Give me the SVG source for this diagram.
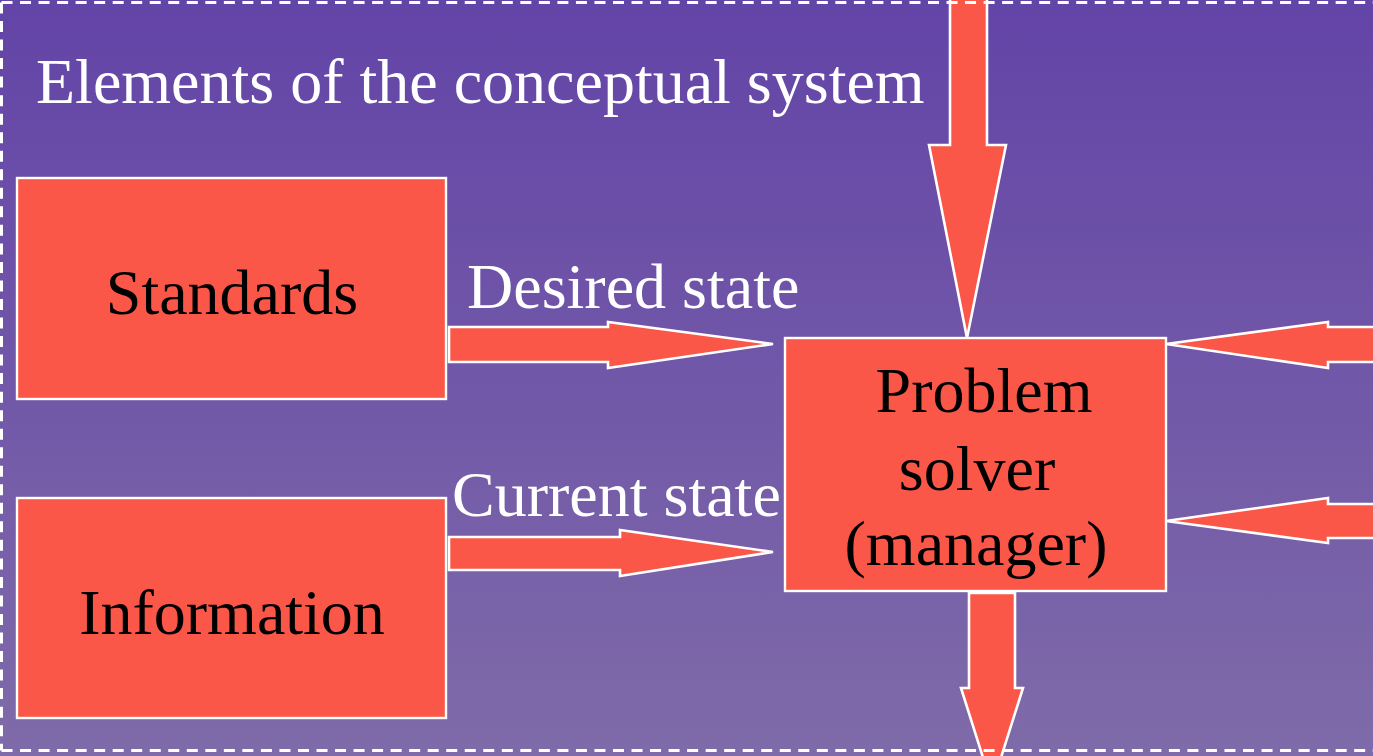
<svg xmlns="http://www.w3.org/2000/svg" width="1373" height="756" viewBox="0 0 1373 756">
  <defs>
    <linearGradient id="bg" x1="0" y1="0" x2="0" y2="1">
      <stop offset="0" stop-color="#6344A7"/>
      <stop offset="1" stop-color="#7F6BA9"/>
    </linearGradient>
    <style>
      .box { fill: #FA5748; stroke: #FFFFFF; stroke-width: 2.4; }
      .arrow { fill: #FA5748; stroke: #FFFFFF; stroke-width: 2.6; stroke-linejoin: miter; }
      .label { font-family: "Liberation Serif", "Times New Roman", serif; font-size: 64px; }
      .dark { fill: #000000; text-anchor: middle; }
      .light { fill: #FFFFFF; }
      .frame { stroke: #FFFFFF; stroke-width: 3; stroke-dasharray: 11 7.53; fill: none; }
    </style>
  </defs>

  <!-- background -->
  <rect x="0" y="0" width="1373" height="756" fill="url(#bg)"/>

  <!-- title -->
  <text class="label light" x="36" y="103">Elements of the conceptual system</text>

  <!-- connectors -->
  <g id="connectors">
    <!-- from above into the problem solver -->
    <polygon class="arrow" points="950,-10 987,-10 987,145 1006,145 967,338 929,145 950,145"/>
    <!-- desired state -->
    <polygon class="arrow" points="449,327 608,327 608,322 773,344 608,368 608,362 449,362"/>
    <!-- current state -->
    <polygon class="arrow" points="449,537 620,537 620,530 773,552 620,576 620,570 449,570"/>
    <!-- inputs from the right -->
    <polygon class="arrow" points="1385,327 1328,327 1328,322 1166,344 1328,368 1328,362 1385,362"/>
    <polygon class="arrow" points="1385,504 1328,504 1328,498 1166,521 1328,543 1328,538 1385,538"/>
    <!-- output downward -->
    <polygon class="arrow" points="969,593 1015,593 1015,688 1023,688 992,786 961,688 969,688"/>
    <text class="label light" x="467" y="308">Desired state</text>
    <text class="label light" x="452" y="516">Current state</text>
  </g>

  <g id="standards">
    <rect class="box" x="17" y="178" width="429" height="221"/>
    <text class="label dark" x="232" y="314">Standards</text>
  </g>

  <g id="information">
    <rect class="box" x="17" y="498" width="429" height="220"/>
    <text class="label dark" x="232" y="634">Information</text>
  </g>

  <g id="problem-solver">
    <rect class="box" x="785" y="338" width="381" height="253"/>
    <text class="label dark" x="984" y="412">Problem</text>
    <text class="label dark" x="977" y="490">solver</text>
    <text class="label dark" x="976" y="565">(manager)</text>
  </g>

  <!-- dashed frame -->
  <g id="frame">
    <line class="frame" x1="1.5" y1="2.5" x2="1400" y2="2.5"/>
    <line class="frame" x1="1.5" y1="2.5" x2="1.5" y2="750.5"/>
    <line class="frame" x1="1.5" y1="750.5" x2="1400" y2="750.5"/>
  </g>
</svg>
